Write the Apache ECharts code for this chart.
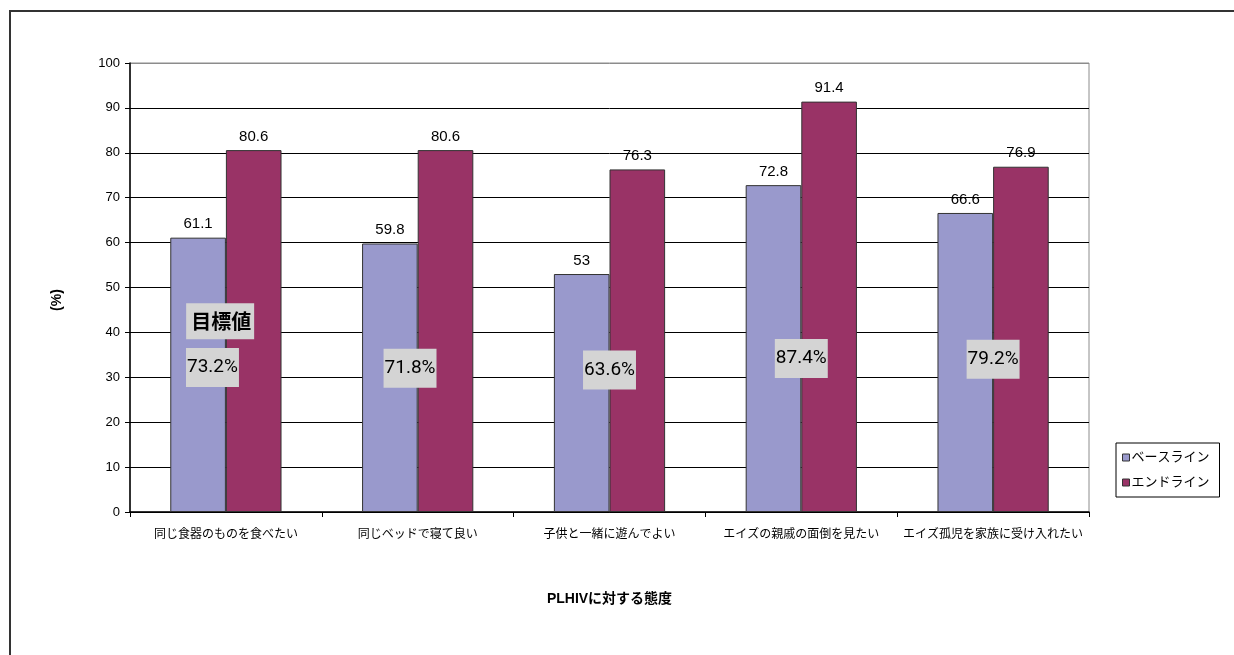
<!DOCTYPE html>
<html><head><meta charset="utf-8">
<script src="https://cdn.jsdelivr.net/npm/echarts@6/dist/echarts.min.js"></script>
<style>html,body{margin:0;padding:0;background:#fff}#c{width:1234px;height:655px}</style>
</head><body><div id="c"></div>
<script>
const categories = ['同じ食器のものを食べたい','同じベッドで寝て良い','子供と一緒に遊んでよい','エイズの親戚の面倒を見たい','エイズ孤児を家族に受け入れたい'];
const baseline = [61.1, 59.8, 53, 72.8, 66.6];
const endline = [80.6, 80.6, 76.3, 91.4, 76.9];
const targets = ['73.2%','71.8%','63.6%','87.4%','79.2%'];
const targetTitle = '目標値';
const seriesNames = ['ベースライン','エンドライン'];

const JP = '"Liberation Sans","Noto Sans CJK JP",sans-serif';
const chart = echarts.init(document.getElementById('c'));
const targetPos = [[0.43,32.2],[0.46,32],[0.5,31.6],[0.5,34.2],[0.5,34]];
const boxStyle = {show:true, backgroundColor:'#D4D4D4', padding:[11,1,9,1], color:'#000', fontSize:19, fontFamily:'Roboto,"Liberation Sans",sans-serif'};
chart.setOption({
  animation:false,
  graphic:[
    {type:'rect', shape:{x:10,y:11,width:1400,height:800}, style:{fill:'none', stroke:'#333', lineWidth:2}},
    {type:'text', x:57, y:300, rotation:Math.PI/2, style:{text:'(%)', font:'bold 14px "Liberation Sans",sans-serif', fill:'#000', align:'center', verticalAlign:'middle'}}
  ],
  grid:{left:130, top:63, width:959, height:449, show:true, borderColor:'#8c8c8c', borderWidth:1},
  legend:{data:seriesNames, orient:'vertical', left:1116, top:443, padding:[8,10,8,6], itemGap:12,
    borderColor:'#000', borderWidth:1, backgroundColor:'#fff', icon:'rect', itemWidth:7, itemHeight:7,
    textStyle:{fontSize:13, fontFamily:JP, color:'#000', padding:[0,0,0,-3]},
    itemStyle:{borderColor:'#333', borderWidth:1}},
  xAxis:[{type:'category', data:categories, axisLine:{lineStyle:{color:'#000', width:1.5}}, axisTick:{show:true, length:5, lineStyle:{color:'#000'}},
    axisLabel:{interval:0, fontSize:12, fontFamily:JP, color:'#000', margin:17},
    name:'PLHIVに対する態度', nameLocation:'middle', nameGap:80,
    nameTextStyle:{fontSize:14, fontWeight:'bold', fontFamily:JP, color:'#000'}},
    {type:'value', show:false, min:0, max:5}],
  yAxis:{type:'value', min:0, max:100, interval:10,
    axisLine:{show:true, lineStyle:{color:'#000', width:1.5}}, axisTick:{show:true, length:5, lineStyle:{color:'#000'}},
    axisLabel:{fontSize:13, fontFamily:'"Liberation Sans",sans-serif', color:'#000', margin:10},
    splitLine:{show:true, lineStyle:{color:['#000','#000','#000','#000','#000','#000','#000','#000','#000','#000','#8c8c8c'], width:1}}},
  series:[
    {name:seriesNames[0], type:'bar', data:baseline, barGap:'0%', barCategoryGap:'42%',
      itemStyle:{color:'#9999CC', borderColor:'#333', borderWidth:1},
      label:{show:true, position:'top', distance:6, fontSize:15, color:'#000', fontFamily:'"Liberation Sans",sans-serif'}},
    {name:seriesNames[1], type:'bar', data:endline,
      itemStyle:{color:'#993366', borderColor:'#333', borderWidth:1},
      label:{show:true, position:'top', distance:6, fontSize:15, color:'#000', fontFamily:'"Liberation Sans",sans-serif'}},
    {type:'scatter', xAxisIndex:1, symbolSize:1, silent:true, z:10, itemStyle:{opacity:1, color:'rgba(0,0,0,0)'},
      data:targets.map((t,i)=>({value:[i+targetPos[i][0], targetPos[i][1]], label:Object.assign({formatter:t}, boxStyle)})),
      label:{show:true, position:'inside'}},
    {type:'scatter', xAxisIndex:1, symbolSize:1, silent:true, z:10, itemStyle:{opacity:1, color:'rgba(0,0,0,0)'},
      data:[{value:[0.47, 42.5], label:{show:true, formatter:targetTitle, backgroundColor:'#D4D4D4', padding:[9,3,7,5], color:'#000', fontSize:20, fontWeight:'bold', fontFamily:'"Noto Sans CJK JP",sans-serif'}}],
      label:{show:true, position:'inside'}}
  ]
});
</script></body></html>
